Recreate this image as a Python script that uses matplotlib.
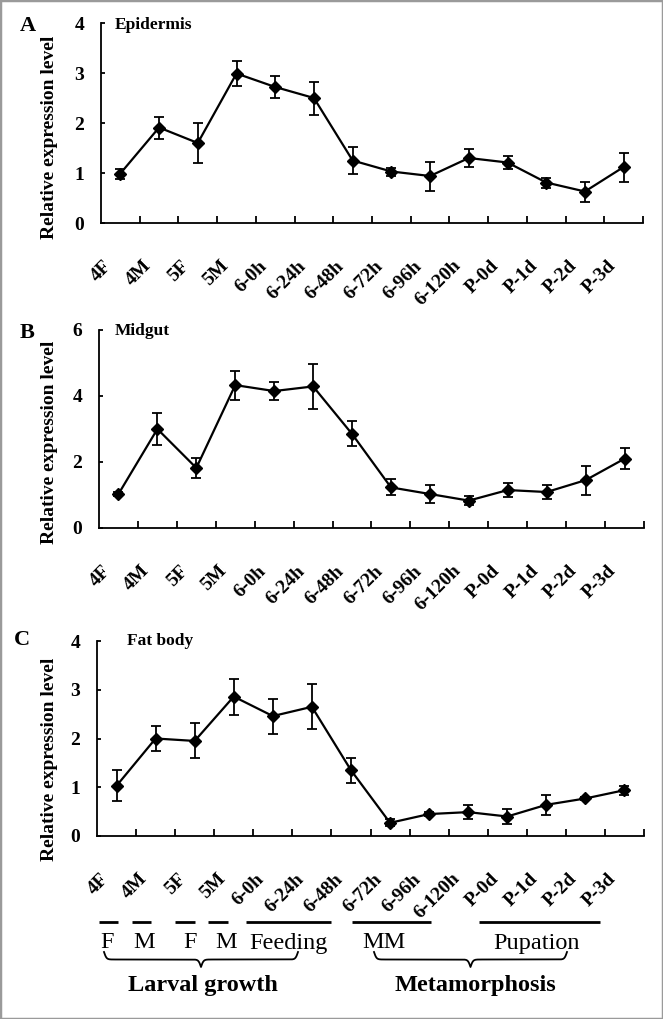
import numpy as np
import matplotlib
matplotlib.use("Agg")
from matplotlib import pyplot as plt
from matplotlib.transforms import ScaledTranslation, blended_transform_factory
from matplotlib.patches import Rectangle

plt.rcParams['font.family'] = ['Liberation Serif', 'DejaVu Serif']

stages = ['4F', '4M', '5F', '5M', '6-0h', '6-24h', '6-48h', '6-72h',
          '6-96h', '6-120h', 'P-0d', 'P-1d', 'P-2d', 'P-3d']

epidermis = [0.99, 1.91, 1.60, 2.99, 2.72, 2.50, 1.25, 1.03, 0.94, 1.30, 1.21, 0.81, 0.63, 1.12]
epidermis_err = [0.10, 0.22, 0.40, 0.25, 0.22, 0.33, 0.27, 0.08, 0.29, 0.18, 0.13, 0.10, 0.20, 0.29]

midgut = [1.03, 3.00, 1.82, 4.33, 4.15, 4.29, 2.85, 1.23, 1.03, 0.83, 1.15, 1.09, 1.45, 2.10]
midgut_err = [0.05, 0.49, 0.30, 0.44, 0.28, 0.68, 0.38, 0.24, 0.27, 0.13, 0.21, 0.20, 0.44, 0.31]

fatbody = [1.03, 2.00, 1.95, 2.86, 2.46, 2.65, 1.35, 0.27, 0.45, 0.49, 0.40, 0.64, 0.77, 0.94]
fatbody_err = [0.32, 0.25, 0.36, 0.37, 0.36, 0.46, 0.26, 0.07, 0.04, 0.14, 0.16, 0.20, 0.04, 0.09]

phase_labels = ['F', 'M', 'F', 'M', 'Feeding', 'MM', 'Pupation']
group_labels = ['Larval growth', 'Metamorphosis']

W, H = 663, 1019
fig = plt.figure(figsize=(W / 100, H / 100), dpi=100)
ftr = blended_transform_factory(fig.transFigure, fig.transFigure)


def px_axes(left, right, top, bottom):
    return fig.add_axes([left / W, 1 - bottom / H, (right - left) / W, (bottom - top) / H])


def panel(ax, vals, errs, ymax, ystep, letter, title, title_x, title_y,
          letter_x, letter_y, lab_y):
    n = len(stages)
    x = np.arange(n) + 0.5
    ax.errorbar(x, vals, yerr=errs, color='black', lw=1.6, marker='D', ms=6,
                elinewidth=1.3, capsize=3.8, capthick=1.3)
    ax.set_xlim(0, n)
    ax.set_ylim(0, ymax)
    for s in ['top', 'right']:
        ax.spines[s].set_visible(False)
    for s in ['left', 'bottom']:
        ax.spines[s].set_linewidth(1.3)
    yt = np.arange(0, ymax + 0.01, ystep)
    ax.set_yticks(yt)
    ax.set_yticklabels([str(int(v)) for v in yt], fontsize=14, fontweight='bold')
    ax.tick_params(axis='y', direction='in', length=3, width=1.3, pad=12)
    ax.set_xticks(x)
    ax.set_xticklabels(stages, rotation=45, ha='right', va='center',
                       rotation_mode='anchor', fontsize=14, fontweight='bold')
    ax.tick_params(axis='x', which='major', length=0, pad=29)
    ax.set_xticks(np.arange(1, n + 1), minor=True)
    ax.tick_params(axis='x', which='minor', direction='in', length=5, width=1.3)
    off = ScaledTranslation(-11 / 100, 0, fig.dpi_scale_trans)
    for lab in ax.get_xticklabels():
        lab.set_transform(lab.get_transform() + off)
    ax.set_ylabel('Relative expression level', fontsize=14, fontweight='bold')
    ax.yaxis.set_label_coords(58 / W, 1 - lab_y / H, transform=ftr)
    fig.text(letter_x / W, 1 - letter_y / H, letter, fontsize=16, fontweight='bold',
             ha='center', va='center')
    fig.text(title_x / W, 1 - title_y / H, title, fontsize=12.5, fontweight='bold',
             ha='left', va='center')


axA = px_axes(101, 643, 23, 223)
panel(axA, epidermis, epidermis_err, 4, 1, 'A', 'Epidermis', 115, 25, 28, 26, 137)

axB = px_axes(99, 644, 330, 528)
panel(axB, midgut, midgut_err, 6, 2, 'B', 'Midgut', 115, 331, 27, 333, 442)

axC = px_axes(97, 644, 641, 836)
panel(axC, fatbody, fatbody_err, 4, 1, 'C', 'Fat body', 127, 641, 22, 640, 759)

# stage annotations under panel C
tr = blended_transform_factory(axC.transData, fig.transFigure)
y_line = 1 - 922 / H
segs = [(0.05, 0.54), (0.90, 1.38), (2.0, 2.51), (2.84, 3.35),
        (3.81, 5.99), (6.53, 8.55), (9.78, 12.87)]
for a, b in segs:
    axC.plot([a, b], [y_line, y_line], color='black', lw=2, transform=tr,
             clip_on=False, solid_capstyle='butt')

phase_x = [0.26, 1.20, 2.38, 3.30, 4.89, 7.35, 11.26]
for px_, lab in zip(phase_x, phase_labels):
    axC.text(px_, 1 - 943 / H, lab, transform=tr, fontsize=17.5,
             ha='center', va='center', clip_on=False)


def brace(x0, x1, ytop, depth):
    xs = np.linspace(x0, x1, 301)
    half = xs[:151]
    beta = 0.8
    yh = 1 / (1 + np.exp(-beta * (half - half[0]))) + 1 / (1 + np.exp(-beta * (half - half[-1])))
    ys = np.concatenate([yh, yh[-2::-1]])
    ypx = ytop + (ys - 0.5) * depth
    fig.lines.append(plt.Line2D(xs / W, 1 - ypx / H, transform=fig.transFigure,
                                color='black', lw=1.3))


brace(104, 298, 952, 15)
brace(374, 567, 952, 15)

group_x = [203, 475]
for gx, lab in zip(group_x, group_labels):
    fig.text(gx / W, 1 - 985 / H, lab, fontsize=17.5, fontweight='bold',
             ha='center', va='center')

fig.patches.append(Rectangle((0, 0), 1, 1, transform=fig.transFigure, fill=False,
                             ec='#9a9a9a', lw=2.5))

fig.savefig('out.png', dpi=100)
